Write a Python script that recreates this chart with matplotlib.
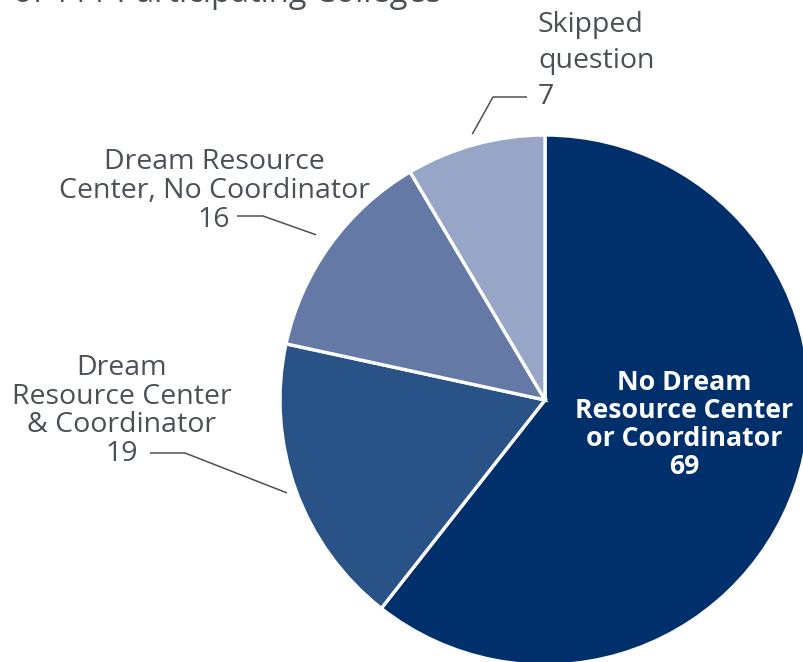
import matplotlib.pyplot as plt
import numpy as np

title = "of 111 Participating Colleges"
labels = ["No Dream\nResource Center\nor Coordinator",
          "Dream\nResource Center\n& Coordinator",
          "Dream Resource\nCenter, No Coordinator",
          "Skipped\nquestion"]
counts = [69, 19, 16, 7]
# share of the circle each slice takes in the picture (percent)
shares = [60.6, 17.8, 13.1, 8.5]
colors = ["#00306b", "#295287", "#6479a6", "#97a5c6"]

W, H = 804, 662
TXT = "#4b5057"
FONT = "Open Sans"

fig = plt.figure(figsize=(W / 100, H / 100), dpi=100)
ax = fig.add_axes([0, 0, 1, 1])

# pixel helpers: y measured from the top of the image
def P(x, y):
    return x, H - y

cx, cy = P(545, 400)
R = 265

wedges, _ = ax.pie(shares, colors=colors, startangle=90, counterclock=False,
                   center=(cx, cy), radius=R,
                   wedgeprops=dict(edgecolor="white", linewidth=2.4))
ax.set_xlim(0, W)
ax.set_ylim(0, H)
ax.set_aspect("equal")
ax.axis("off")

def mid_point(w, k):
    a = np.deg2rad((w.theta1 + w.theta2) / 2)
    return cx + k * R * np.cos(a), cy + k * R * np.sin(a)

# title (cut off by the top edge)
ax.text(*P(13, 2), title, fontsize=23.5, color=TXT, family=FONT,
        ha="left", va="baseline")

# big slice label inside
ax.text(*P(684, 425), labels[0] + "\n" + str(counts[0]), fontsize=19.2,
        fontweight="bold", color="white", family=FONT, ha="center",
        va="center", multialignment="center", linespacing=1.1)

# outside labels
ax.text(*P(122, 411), labels[1] + "\n" + str(counts[1]), fontsize=20.5,
        color=TXT, family=FONT, ha="center", va="center",
        multialignment="center", linespacing=1.03)
ax.text(*P(214, 191), labels[2] + "\n" + str(counts[2]), fontsize=20.5,
        color=TXT, family=FONT, ha="center", va="center",
        multialignment="center", linespacing=1.03)
ax.text(*P(538, 61), labels[3] + "\n" + str(counts[3]), fontsize=20.5,
        color=TXT, family=FONT, ha="left", va="center",
        multialignment="left", linespacing=1.39)

# leader lines
legs = [(1, [(150, 453), (185, 453)], 1.035),
        (2, [(237, 216), (263, 216)], 1.065),
        (3, [(527, 97), (493, 97)], 1.04)]
for i, pts, k in legs:
    xs = [P(*p)[0] for p in pts]
    ys = [P(*p)[1] for p in pts]
    ex, ey = mid_point(wedges[i], k)
    ax.plot(xs + [ex], ys + [ey], color=TXT, lw=1.1, solid_capstyle="butt")

fig.savefig("out.png", dpi=100)
